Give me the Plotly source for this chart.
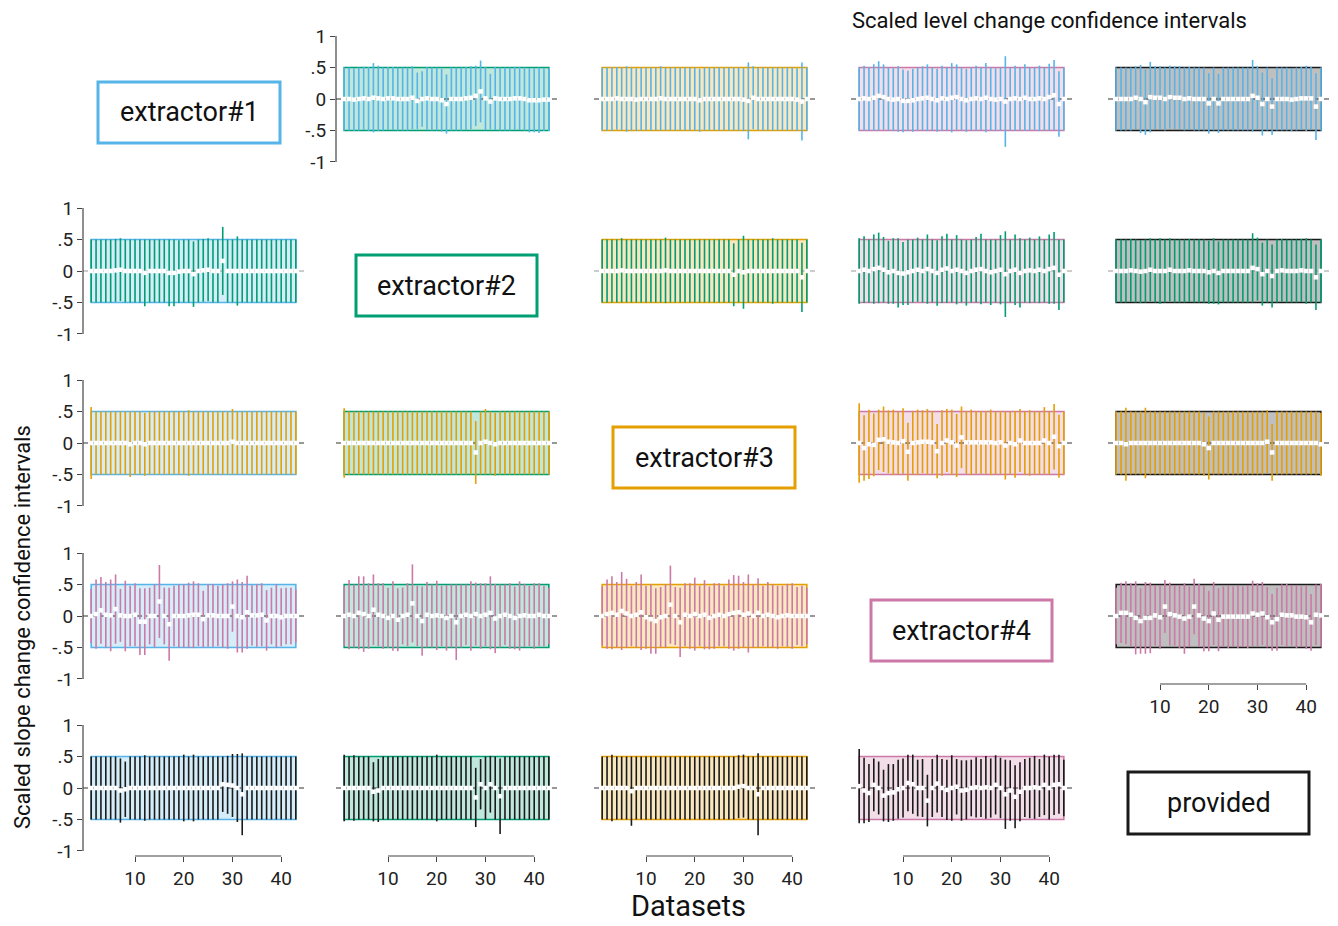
import plotly.graph_objects as go

W, H = 1338, 926

# ---- data -------------------------------------------------------------
datasets = list(range(1, 44))
labels = ["extractor#1", "extractor#2", "extractor#3", "extractor#4", "provided"]
line_colors = ["#56B4E9", "#009E73", "#E69F00", "#CC79A7", "#1a1a1a"]
fill_colors = ["rgba(86,180,233,0.25)", "rgba(0,158,115,0.25)",
               "rgba(230,159,0,0.25)", "rgba(204,121,167,0.25)", "rgba(0,0,0,0.25)"]
zero_colors = ["#333333", "#9a9a9a", "#333333", "#333333", "#333333"]

y_ticks = [-1, -0.5, 0, 0.5, 1]
y_ticktext = ["-1", "-.5", "0", ".5", "1"]
x_ticks = [10, 20, 30, 40]

# estimates (est_r_c) and CI half widths (hw_r_c): row extractor r scaled by column extractor c
est_1_2 = [0.00, 0.00, -0.01, 0.00, 0.01, 0.00, 0.02, 0.01, 0.00, 0.01, 0.01,
           0.00, 0.00, 0.00, 0.02, -0.03, 0.00, 0.01, 0.00, 0.00, -0.02, -0.08,
           0.00, 0.00, 0.00, 0.01, 0.02, 0.05, 0.12, 0.01, -0.04, 0.01, 0.00,
           0.00, 0.00, 0.01, 0.01, 0.00, -0.02, -0.02, -0.02, -0.01, -0.01]
hw_1_2 = [0.50, 0.50, 0.50, 0.50, 0.50, 0.51, 0.55, 0.52, 0.50, 0.50, 0.50,
          0.50, 0.50, 0.50, 0.50, 0.45, 0.44, 0.50, 0.50, 0.50, 0.50, 0.47,
          0.50, 0.50, 0.50, 0.50, 0.50, 0.48, 0.49, 0.50, 0.44, 0.50, 0.50,
          0.50, 0.50, 0.50, 0.50, 0.50, 0.51, 0.51, 0.52, 0.50, 0.50]

est_1_3 = [0.00, 0.00, 0.00, 0.01, 0.00, 0.00, 0.00, -0.01, 0.00, 0.00, 0.00,
           0.00, 0.01, 0.00, 0.00, 0.00, 0.00, 0.00, 0.00, 0.00, -0.02, 0.00,
           0.00, 0.00, 0.00, 0.00, 0.00, 0.00, 0.00, -0.01, -0.03, 0.02, 0.00,
           0.00, 0.00, 0.00, 0.00, 0.00, 0.00, 0.00, -0.01, -0.04, 0.00]
hw_1_3 = [0.50, 0.50, 0.51, 0.50, 0.50, 0.52, 0.50, 0.50, 0.50, 0.50, 0.50,
          0.50, 0.51, 0.50, 0.50, 0.50, 0.50, 0.50, 0.50, 0.50, 0.50, 0.50,
          0.50, 0.50, 0.50, 0.50, 0.50, 0.50, 0.50, 0.50, 0.61, 0.50, 0.50,
          0.50, 0.50, 0.50, 0.50, 0.50, 0.50, 0.50, 0.50, 0.62, 0.50]

est_1_4 = [0.00, 0.01, 0.00, 0.02, 0.05, 0.03, 0.00, -0.01, 0.00, -0.03, -0.03,
           -0.02, 0.00, 0.01, 0.02, 0.00, -0.02, 0.01, 0.00, 0.02, 0.03, 0.00,
           -0.02, 0.00, 0.01, 0.00, 0.02, 0.00, -0.01, 0.00, -0.04, 0.00, 0.01,
           0.00, 0.02, 0.00, 0.00, 0.01, 0.00, 0.03, 0.06, -0.08, 0.00]
hw_1_4 = [0.50, 0.52, 0.50, 0.53, 0.55, 0.52, 0.50, 0.50, 0.52, 0.50, 0.48,
          0.50, 0.50, 0.51, 0.53, 0.50, 0.50, 0.52, 0.50, 0.55, 0.52, 0.50,
          0.50, 0.50, 0.52, 0.50, 0.55, 0.50, 0.50, 0.50, 0.72, 0.50, 0.52,
          0.50, 0.53, 0.50, 0.50, 0.52, 0.50, 0.53, 0.56, 0.52, 0.50]

est_1_5 = [0.00, 0.00, 0.00, 0.00, 0.02, 0.00, -0.05, 0.03, 0.02, 0.02, 0.00,
           0.03, 0.02, 0.02, 0.00, 0.01, 0.00, 0.00, 0.00, -0.07, 0.00, -0.07,
           0.00, 0.00, 0.00, 0.00, 0.00, 0.00, 0.05, 0.02, -0.08, 0.00, -0.12,
           0.00, 0.00, 0.00, -0.01, 0.00, 0.01, 0.01, 0.01, -0.12, 0.00]
hw_1_5 = [0.50, 0.50, 0.50, 0.50, 0.50, 0.54, 0.52, 0.56, 0.50, 0.50, 0.50,
          0.50, 0.50, 0.50, 0.50, 0.50, 0.50, 0.50, 0.50, 0.48, 0.50, 0.47,
          0.50, 0.50, 0.50, 0.50, 0.50, 0.50, 0.57, 0.50, 0.50, 0.50, 0.45,
          0.50, 0.50, 0.50, 0.50, 0.50, 0.50, 0.52, 0.50, 0.53, 0.50]

est_2_1 = [0.00, 0.00, 0.00, 0.00, 0.00, 0.01, 0.02, 0.00, 0.00, 0.00, 0.00,
           -0.03, 0.00, 0.00, 0.00, 0.00, -0.03, -0.03, -0.01, 0.00, 0.00, -0.05,
           0.00, 0.01, 0.02, 0.00, 0.00, 0.16, 0.00, 0.00, 0.00, 0.00, 0.00,
           0.00, 0.00, 0.00, 0.00, 0.00, 0.00, 0.00, 0.00, 0.00, 0.00]
hw_2_1 = [0.50, 0.50, 0.50, 0.50, 0.50, 0.50, 0.50, 0.50, 0.50, 0.50, 0.50,
          0.53, 0.50, 0.50, 0.50, 0.50, 0.53, 0.53, 0.50, 0.50, 0.50, 0.52,
          0.50, 0.50, 0.50, 0.50, 0.50, 0.54, 0.50, 0.50, 0.55, 0.50, 0.50,
          0.50, 0.50, 0.50, 0.50, 0.50, 0.50, 0.50, 0.50, 0.50, 0.50]

est_2_3 = [0.00, 0.00, 0.00, 0.00, 0.01, 0.00, 0.00, 0.00, 0.00, 0.00, 0.00,
           0.00, 0.00, 0.01, 0.00, 0.00, 0.00, 0.00, 0.00, 0.00, 0.00, 0.00,
           0.00, 0.00, 0.00, 0.00, 0.00, -0.06, 0.00, -0.02, 0.00, 0.00, 0.00,
           0.00, 0.00, 0.00, 0.00, 0.00, 0.00, 0.00, 0.00, -0.10, 0.00]
hw_2_3 = [0.50, 0.50, 0.50, 0.50, 0.51, 0.50, 0.50, 0.50, 0.50, 0.50, 0.50,
          0.50, 0.50, 0.52, 0.50, 0.50, 0.50, 0.50, 0.50, 0.50, 0.50, 0.50,
          0.50, 0.50, 0.50, 0.50, 0.50, 0.50, 0.50, 0.58, 0.50, 0.50, 0.50,
          0.50, 0.50, 0.52, 0.50, 0.50, 0.50, 0.50, 0.50, 0.55, 0.50]

est_2_4 = [0.00, 0.02, 0.00, 0.03, 0.05, 0.02, -0.02, 0.00, -0.03, -0.04, -0.02,
           0.00, 0.02, 0.00, 0.03, 0.00, -0.03, 0.02, 0.04, 0.00, 0.02, 0.00,
           -0.03, 0.00, 0.02, 0.03, 0.00, -0.02, 0.00, 0.02, -0.05, 0.00, 0.02,
           -0.03, 0.00, 0.01, 0.00, 0.02, 0.00, 0.03, 0.05, -0.06, 0.00]
hw_2_4 = [0.52, 0.53, 0.50, 0.55, 0.56, 0.52, 0.50, 0.52, 0.55, 0.50, 0.52,
          0.50, 0.51, 0.50, 0.55, 0.50, 0.52, 0.53, 0.55, 0.50, 0.55, 0.50,
          0.52, 0.50, 0.52, 0.56, 0.50, 0.52, 0.50, 0.55, 0.68, 0.50, 0.56,
          0.55, 0.50, 0.52, 0.50, 0.53, 0.50, 0.55, 0.57, 0.56, 0.50]

est_2_5 = [0.00, 0.00, 0.00, 0.01, 0.00, -0.01, 0.00, 0.02, 0.00, 0.00, 0.00,
           0.02, 0.00, 0.00, 0.00, 0.01, 0.00, 0.00, 0.00, -0.02, 0.00, -0.03,
           0.00, 0.00, 0.00, 0.00, 0.00, 0.00, 0.05, 0.03, -0.05, 0.00, -0.08,
           0.00, 0.01, 0.00, 0.00, 0.00, 0.01, 0.00, 0.00, -0.10, 0.00]
hw_2_5 = [0.50, 0.50, 0.50, 0.50, 0.50, 0.50, 0.50, 0.50, 0.50, 0.52, 0.50,
          0.50, 0.50, 0.50, 0.50, 0.50, 0.50, 0.50, 0.50, 0.50, 0.52, 0.50,
          0.50, 0.50, 0.50, 0.50, 0.50, 0.50, 0.55, 0.50, 0.50, 0.50, 0.50,
          0.50, 0.50, 0.50, 0.50, 0.50, 0.50, 0.52, 0.50, 0.52, 0.50]

est_3_1 = [0.00, 0.00, 0.00, 0.00, 0.00, 0.00, 0.00, 0.00, -0.02, 0.00, 0.00,
           -0.02, 0.00, 0.00, 0.00, 0.00, 0.00, 0.00, 0.00, 0.00, 0.00, 0.00,
           0.00, 0.00, 0.00, 0.00, 0.00, 0.00, 0.00, 0.02, 0.00, 0.00, 0.00,
           0.00, 0.00, 0.00, 0.00, 0.00, 0.00, 0.00, 0.00, 0.00, 0.00]
hw_3_1 = [0.57, 0.50, 0.50, 0.50, 0.50, 0.50, 0.50, 0.50, 0.52, 0.50, 0.50,
          0.50, 0.50, 0.50, 0.50, 0.50, 0.50, 0.50, 0.50, 0.50, 0.52, 0.50,
          0.50, 0.50, 0.50, 0.50, 0.50, 0.50, 0.50, 0.52, 0.50, 0.50, 0.50,
          0.50, 0.50, 0.50, 0.50, 0.50, 0.50, 0.50, 0.50, 0.50, 0.50]

est_3_2 = [0.00, 0.00, 0.00, 0.00, 0.00, 0.00, 0.00, 0.00, 0.00, 0.00, 0.00,
           0.00, 0.00, 0.00, 0.00, 0.00, 0.00, 0.00, 0.00, 0.00, 0.00, 0.00,
           0.00, 0.00, 0.00, 0.00, 0.00, -0.15, 0.00, 0.02, 0.00, -0.02, 0.00,
           0.00, 0.00, 0.00, 0.00, 0.00, 0.00, 0.00, 0.00, 0.00, 0.00]
hw_3_2 = [0.55, 0.50, 0.50, 0.50, 0.50, 0.50, 0.50, 0.50, 0.50, 0.50, 0.50,
          0.50, 0.50, 0.50, 0.50, 0.50, 0.50, 0.50, 0.50, 0.50, 0.50, 0.50,
          0.50, 0.50, 0.50, 0.50, 0.50, 0.50, 0.50, 0.52, 0.50, 0.50, 0.50,
          0.50, 0.50, 0.50, 0.50, 0.50, 0.50, 0.50, 0.50, 0.50, 0.50]

est_3_4 = [0.00, -0.08, -0.02, -0.03, 0.05, 0.06, 0.02, 0.01, 0.00, 0.03, -0.14,
           0.00, 0.01, 0.02, 0.02, 0.01, -0.13, 0.00, 0.04, 0.01, -0.04, 0.09,
           0.01, 0.01, 0.01, 0.01, 0.01, 0.01, 0.00, 0.01, -0.04, 0.00, -0.02,
           0.04, 0.00, 0.00, 0.00, 0.00, 0.04, 0.00, 0.10, -0.05, 0.00]
hw_3_4 = [0.63, 0.52, 0.55, 0.50, 0.48, 0.52, 0.50, 0.52, 0.50, 0.52, 0.46,
          0.50, 0.52, 0.50, 0.52, 0.50, 0.43, 0.52, 0.50, 0.52, 0.50, 0.49,
          0.50, 0.52, 0.50, 0.50, 0.50, 0.52, 0.50, 0.50, 0.54, 0.50, 0.53,
          0.50, 0.50, 0.52, 0.50, 0.50, 0.53, 0.50, 0.52, 0.50, 0.50]

est_3_5 = [0.00, 0.00, -0.02, 0.00, 0.00, 0.00, 0.00, 0.00, 0.00, 0.00, 0.00,
           0.00, 0.00, 0.00, 0.00, 0.00, 0.00, 0.00, -0.02, -0.08, 0.00, 0.00,
           0.00, 0.00, 0.00, 0.00, 0.00, 0.00, 0.00, 0.00, 0.00, 0.02, -0.15,
           0.00, 0.00, 0.00, 0.00, 0.00, 0.00, 0.00, 0.00, 0.00, -0.02]
hw_3_5 = [0.50, 0.50, 0.58, 0.50, 0.50, 0.50, 0.56, 0.50, 0.50, 0.50, 0.50,
          0.50, 0.50, 0.50, 0.50, 0.50, 0.50, 0.50, 0.50, 0.50, 0.50, 0.50,
          0.50, 0.50, 0.50, 0.50, 0.50, 0.50, 0.50, 0.50, 0.50, 0.50, 0.45,
          0.50, 0.50, 0.50, 0.50, 0.50, 0.50, 0.50, 0.50, 0.50, 0.50]

est_4_1 = [0.00, 0.03, 0.09, 0.02, 0.01, 0.11, 0.01, 0.00, 0.00, 0.02, -0.09,
           -0.09, 0.00, 0.00, 0.23, 0.00, -0.13, 0.00, 0.00, 0.00, 0.01, 0.02,
           0.02, -0.05, 0.01, 0.01, 0.00, 0.00, 0.00, 0.15, 0.00, -0.02, 0.06,
           0.01, 0.01, 0.02, -0.07, 0.00, 0.00, -0.02, 0.00, 0.00, 0.00]
hw_4_1 = [0.43, 0.55, 0.53, 0.52, 0.57, 0.55, 0.42, 0.56, 0.48, 0.50, 0.53,
          0.53, 0.45, 0.50, 0.58, 0.45, 0.58, 0.48, 0.50, 0.50, 0.52, 0.53,
          0.50, 0.45, 0.50, 0.50, 0.48, 0.50, 0.52, 0.40, 0.58, 0.56, 0.58,
          0.48, 0.50, 0.50, 0.48, 0.45, 0.50, 0.46, 0.45, 0.45, 0.42]

est_4_2 = [0.00, 0.02, 0.00, 0.05, 0.03, 0.00, 0.10, 0.02, 0.00, -0.03, 0.00,
           -0.06, 0.00, 0.02, 0.20, 0.00, -0.08, 0.02, 0.00, 0.01, 0.00, -0.03,
           0.00, -0.10, 0.00, 0.02, 0.00, 0.03, 0.00, 0.02, 0.05, -0.04, 0.00,
           0.02, 0.00, -0.03, 0.00, 0.01, 0.00, 0.00, 0.02, 0.00, 0.00]
hw_4_2 = [0.48, 0.55, 0.50, 0.58, 0.60, 0.52, 0.56, 0.50, 0.52, 0.48, 0.55,
          0.50, 0.45, 0.50, 0.62, 0.48, 0.55, 0.52, 0.50, 0.55, 0.48, 0.52,
          0.50, 0.60, 0.50, 0.48, 0.55, 0.50, 0.52, 0.50, 0.58, 0.55, 0.50,
          0.48, 0.52, 0.50, 0.55, 0.50, 0.48, 0.52, 0.50, 0.48, 0.45]

est_4_3 = [0.00, 0.03, 0.05, 0.02, 0.08, 0.04, 0.00, 0.02, 0.06, -0.02, -0.05,
           -0.08, -0.02, 0.00, 0.18, 0.00, -0.10, 0.02, 0.00, 0.03, 0.00, 0.02,
           -0.03, 0.00, 0.02, 0.00, 0.03, 0.05, 0.06, 0.02, 0.04, 0.00, 0.05,
           0.00, 0.02, 0.00, -0.02, 0.00, 0.01, 0.00, 0.00, 0.00, 0.00]
hw_4_3 = [0.47, 0.55, 0.58, 0.52, 0.62, 0.55, 0.48, 0.52, 0.60, 0.50, 0.55,
          0.52, 0.48, 0.50, 0.62, 0.46, 0.55, 0.50, 0.52, 0.58, 0.48, 0.55,
          0.50, 0.52, 0.50, 0.48, 0.55, 0.60, 0.58, 0.52, 0.62, 0.50, 0.55,
          0.48, 0.52, 0.50, 0.50, 0.48, 0.50, 0.52, 0.46, 0.48, 0.45]

est_4_5 = [0.00, 0.05, 0.05, 0.02, -0.03, -0.08, -0.03, -0.03, 0.01, -0.02, 0.15,
           0.03, 0.01, -0.01, -0.04, -0.01, 0.15, 0.01, -0.04, -0.08, 0.04, -0.06,
           -0.01, -0.01, -0.01, -0.01, -0.01, -0.01, 0.04, 0.02, 0.04, -0.02, -0.10,
           -0.05, 0.02, 0.01, 0.01, -0.01, -0.01, -0.02, -0.10, 0.02, 0.01]
hw_4_5 = [0.45, 0.48, 0.50, 0.50, 0.58, 0.52, 0.57, 0.56, 0.48, 0.50, 0.42,
          0.50, 0.48, 0.50, 0.56, 0.48, 0.44, 0.50, 0.52, 0.48, 0.50, 0.50,
          0.48, 0.50, 0.48, 0.50, 0.48, 0.50, 0.52, 0.50, 0.50, 0.48, 0.45,
          0.50, 0.48, 0.50, 0.48, 0.50, 0.48, 0.50, 0.45, 0.48, 0.50]

est_5_1 = [0.00, 0.00, 0.00, 0.00, 0.00, 0.00, -0.04, -0.02, 0.00, 0.00, 0.00,
           0.00, 0.00, 0.00, 0.00, 0.00, 0.00, 0.00, 0.00, 0.00, 0.00, 0.00,
           0.00, 0.00, 0.00, 0.00, 0.00, 0.06, 0.05, 0.04, 0.00, -0.10, 0.00,
           0.00, 0.00, 0.00, 0.00, 0.00, 0.00, 0.00, 0.00, 0.00, 0.00]
hw_5_1 = [0.50, 0.50, 0.50, 0.50, 0.50, 0.50, 0.51, 0.44, 0.50, 0.50, 0.50,
          0.52, 0.50, 0.50, 0.50, 0.50, 0.50, 0.50, 0.50, 0.53, 0.50, 0.53,
          0.50, 0.50, 0.50, 0.50, 0.50, 0.44, 0.46, 0.50, 0.54, 0.65, 0.50,
          0.50, 0.50, 0.50, 0.50, 0.50, 0.50, 0.50, 0.50, 0.50, 0.50]

est_5_2 = [0.00, 0.00, 0.00, 0.00, 0.00, 0.00, -0.06, -0.04, 0.00, 0.00, 0.00,
           0.00, 0.00, 0.00, 0.00, 0.00, 0.00, 0.00, 0.00, 0.00, 0.00, 0.00,
           0.00, 0.00, 0.00, 0.00, 0.00, -0.15, 0.06, 0.00, 0.06, 0.00, -0.13,
           0.00, 0.00, 0.00, 0.00, 0.00, 0.00, 0.00, 0.00, 0.00, 0.00]
hw_5_2 = [0.53, 0.50, 0.52, 0.50, 0.50, 0.50, 0.47, 0.50, 0.50, 0.50, 0.50,
          0.50, 0.50, 0.50, 0.50, 0.50, 0.50, 0.50, 0.50, 0.53, 0.50, 0.50,
          0.50, 0.50, 0.50, 0.50, 0.50, 0.47, 0.40, 0.50, 0.45, 0.50, 0.60,
          0.50, 0.50, 0.50, 0.50, 0.50, 0.50, 0.50, 0.50, 0.50, 0.50]

est_5_3 = [0.00, 0.00, 0.00, 0.00, 0.00, 0.00, -0.05, 0.00, 0.00, 0.00, 0.00,
           0.00, 0.00, 0.00, 0.00, 0.00, 0.00, 0.00, 0.00, 0.00, 0.00, 0.00,
           0.00, 0.00, 0.00, 0.00, 0.00, 0.00, 0.02, 0.03, 0.00, 0.00, -0.10,
           0.00, 0.00, 0.00, 0.00, 0.00, 0.00, 0.00, 0.00, 0.00, 0.00]
hw_5_3 = [0.50, 0.50, 0.53, 0.50, 0.50, 0.50, 0.55, 0.50, 0.50, 0.50, 0.50,
          0.50, 0.50, 0.50, 0.50, 0.50, 0.50, 0.50, 0.50, 0.50, 0.50, 0.50,
          0.50, 0.50, 0.50, 0.50, 0.50, 0.50, 0.50, 0.50, 0.50, 0.50, 0.65,
          0.50, 0.50, 0.50, 0.50, 0.50, 0.50, 0.50, 0.50, 0.50, 0.50]

est_5_4 = [0.03, -0.04, -0.08, 0.05, 0.00, -0.12, -0.08, -0.07, -0.02, 0.00, 0.08,
           0.06, 0.00, 0.00, -0.20, 0.00, 0.07, 0.00, -0.03, 0.00, 0.02, -0.04,
           -0.03, 0.00, 0.01, 0.00, 0.01, 0.00, 0.05, 0.00, -0.10, -0.04, -0.14,
           -0.06, 0.00, 0.00, 0.01, 0.00, 0.05, 0.00, 0.05, 0.06, 0.00]
hw_5_4 = [0.59, 0.52, 0.46, 0.42, 0.42, 0.41, 0.46, 0.45, 0.47, 0.47, 0.45,
          0.47, 0.45, 0.46, 0.41, 0.46, 0.46, 0.46, 0.48, 0.52, 0.44, 0.48,
          0.47, 0.45, 0.48, 0.46, 0.50, 0.47, 0.47, 0.48, 0.55, 0.48, 0.50,
          0.47, 0.46, 0.48, 0.50, 0.46, 0.48, 0.50, 0.48, 0.47, 0.45]

estimates = {
    (1, 2): est_1_2, (1, 3): est_1_3, (1, 4): est_1_4, (1, 5): est_1_5,
    (2, 1): est_2_1, (2, 3): est_2_3, (2, 4): est_2_4, (2, 5): est_2_5,
    (3, 1): est_3_1, (3, 2): est_3_2, (3, 4): est_3_4, (3, 5): est_3_5,
    (4, 1): est_4_1, (4, 2): est_4_2, (4, 3): est_4_3, (4, 5): est_4_5,
    (5, 1): est_5_1, (5, 2): est_5_2, (5, 3): est_5_3, (5, 4): est_5_4,
}
half_widths = {
    (1, 2): hw_1_2, (1, 3): hw_1_3, (1, 4): hw_1_4, (1, 5): hw_1_5,
    (2, 1): hw_2_1, (2, 3): hw_2_3, (2, 4): hw_2_4, (2, 5): hw_2_5,
    (3, 1): hw_3_1, (3, 2): hw_3_2, (3, 4): hw_3_4, (3, 5): hw_3_5,
    (4, 1): hw_4_1, (4, 2): hw_4_2, (4, 3): hw_4_3, (4, 5): hw_4_5,
    (5, 1): hw_5_1, (5, 2): hw_5_2, (5, 3): hw_5_3, (5, 4): hw_5_4,
}

# ---- layout geometry (pixels) ------------------------------------------
FONT = "Roboto"
col_left = [83, 336, 594, 851, 1108]
col_width = 221
row_top = [31, 203, 375, 548, 720]
row_height = 136
x_range = [-0.68, 44.68]
y_range = [-1.08, 1.08]

# diagonal name boxes: left, top, right, bottom in pixels
name_boxes = [(98, 82, 280, 143), (356, 255, 537, 316), (613, 427, 795, 488),
              (871, 600, 1052, 661), (1128, 772, 1309, 834)]


def px(x):
    return x / W


def py(y):
    return 1 - y / H


fig = go.Figure()
shapes = []
annotations = []
axes = {}
n = 0
for r in range(1, 6):
    for c in range(1, 6):
        if r == c:
            continue
        n += 1
        suffix = "" if n == 1 else str(n)
        xa, ya = "x" + suffix, "y" + suffix
        x0p, x1p = px(col_left[c - 1]), px(col_left[c - 1] + col_width)
        y1p, y0p = py(row_top[r - 1]), py(row_top[r - 1] + row_height)
        show_x = (r == 5) or (r == 4 and c == 5)
        show_y = (c == 1) or (r == 1 and c == 2)

        axes["xaxis" + suffix] = dict(
            domain=[x0p, x1p], range=x_range, anchor=ya, showgrid=False,
            zeroline=False, showline=False, showticklabels=show_x,
            automargin=False,
            ticks="outside" if show_x else "", tickvals=x_ticks, ticklen=5,
            tickwidth=1.2, tickcolor="#444", fixedrange=True,
            tickfont=dict(family=FONT, size=19, color="#222"))
        axes["yaxis" + suffix] = dict(
            domain=[y0p, y1p], range=y_range, anchor=xa, showgrid=False,
            zeroline=False, showline=False, showticklabels=show_y,
            automargin=False,
            ticks="outside" if show_y else "", tickvals=y_ticks,
            ticktext=y_ticktext, ticklen=5, tickwidth=1.2, tickcolor="#444",
            fixedrange=True, tickfont=dict(family=FONT, size=19, color="#222"))

        # reference interval band of the column extractor
        shapes.append(dict(type="rect", xref=xa, yref=ya, x0=datasets[0],
                           x1=datasets[-1], y0=-0.5, y1=0.5, layer="below",
                           fillcolor=fill_colors[c - 1],
                           line=dict(color=line_colors[c - 1], width=1.6)))
        # zero reference line
        shapes.append(dict(type="line", xref=xa, yref=ya, x0=x_range[0],
                           x1=x_range[1], y0=0, y1=0, layer="below",
                           line=dict(color=zero_colors[r - 1], width=1.2,
                                     dash="5px,4px")))
        if show_x:
            shapes.append(dict(type="line", xref=xa, yref="paper",
                               x0=x_ticks[0], x1=x_ticks[-1], y0=y0p, y1=y0p,
                               line=dict(color="#444", width=1.2)))
        if show_y:
            shapes.append(dict(type="line", xref="paper", yref=ya,
                               x0=x0p, x1=x0p, y0=y_ticks[0], y1=y_ticks[-1],
                               line=dict(color="#444", width=1.2)))

        fig.add_trace(go.Scatter(
            x=datasets, y=estimates[(r, c)], xaxis=xa, yaxis=ya,
            mode="markers", showlegend=False, hoverinfo="skip",
            marker=dict(symbol="square", size=4.5, color="white",
                        line=dict(width=0)),
            error_y=dict(type="data", array=half_widths[(r, c)],
                         symmetric=True, width=0, thickness=1.6,
                         color=line_colors[r - 1])))

# extractor name boxes on the diagonal
for i, (l, t, rr, b) in enumerate(name_boxes):
    shapes.append(dict(type="rect", xref="paper", yref="paper",
                       x0=px(l), x1=px(rr), y0=py(b), y1=py(t),
                       line=dict(color=line_colors[i], width=3),
                       fillcolor="white"))
    annotations.append(dict(xref="paper", yref="paper", x=px((l + rr) / 2),
                            y=py((t + b) / 2), text=labels[i], showarrow=False,
                            xanchor="center", yanchor="middle",
                            font=dict(family=FONT, size=27, color="#111")))

annotations.append(dict(xref="paper", yref="paper", x=px(850), y=py(20),
                        text="Scaled level change confidence intervals",
                        showarrow=False, xanchor="left", yanchor="middle",
                        font=dict(family=FONT, size=22, color="#111")))
annotations.append(dict(xref="paper", yref="paper", x=px(688), y=py(906),
                        text="Datasets", showarrow=False, xanchor="center",
                        yanchor="middle",
                        font=dict(family=FONT, size=29, color="#111")))
annotations.append(dict(xref="paper", yref="paper", x=px(22), y=py(627),
                        text="Scaled slope change confidence intervals",
                        showarrow=False, xanchor="center", yanchor="middle",
                        textangle=-90,
                        font=dict(family=FONT, size=22, color="#111")))

fig.update_layout(
    width=W, height=H,
    margin=dict(l=0, r=0, t=0, b=0, pad=0, autoexpand=False),
    paper_bgcolor="white", plot_bgcolor="rgba(0,0,0,0)",
    shapes=shapes, annotations=annotations, showlegend=False,
    font=dict(family=FONT), **axes)

fig.write_html("out.html", config={"displayModeBar": False})
